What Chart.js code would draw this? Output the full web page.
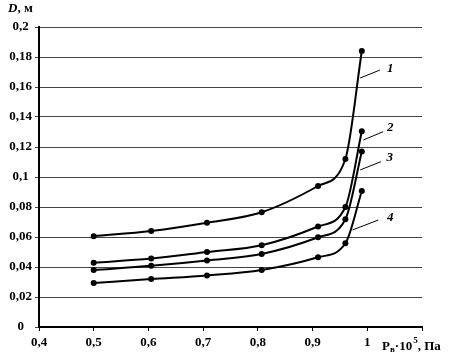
<!DOCTYPE html>
<html>
<head>
<meta charset="utf-8">
<script src="https://cdn.jsdelivr.net/npm/chart.js@4/dist/chart.umd.min.js"></script>
<style>
    html, body { margin: 0; padding: 0; background: #fff; }
    #wrap { width: 457px; height: 362px; position: relative; }
</style>
</head>
<body>
<div id="wrap"><canvas id="chart"></canvas></div>
<script>
// pressure Pв·10^5, Па
const pressure = [0.5, 0.605, 0.707, 0.807, 0.91, 0.96, 0.99];
// diameter D, м for curves 1..4
const curve1 = [0.0605, 0.064, 0.0695, 0.0765, 0.094, 0.112, 0.184];
const curve2 = [0.0428, 0.0456, 0.050, 0.0545, 0.067, 0.080, 0.1305];
const curve3 = [0.038, 0.0408, 0.0444, 0.0487, 0.0598, 0.0718, 0.117];
const curve4 = [0.0293, 0.032, 0.0344, 0.038, 0.0465, 0.0558, 0.0907];

const curveNames = ['1', '2', '3', '4'];
// leader lines for the curve numbers, in data units: [x0, y0, x1, y1, textX, textY]
const leaders = [
    [0.987, 0.166, 1.023, 0.1713, 1.036, 0.1725],
    [0.993, 0.1247, 1.029, 0.1302, 1.036, 0.1330],
    [0.987, 0.1047, 1.025, 0.1102, 1.035, 0.1130],
    [0.973, 0.0647, 1.020, 0.0713, 1.036, 0.0732]
];

const serif = '"Liberation Serif", "Times New Roman", serif';

function toPoints(ys) {
    return pressure.map((x, i) => ({ x: x, y: ys[i] }));
}

function fmt(v) {
    return (Math.round(v * 100) / 100).toString().replace('.', ',');
}

const labelsPlugin = {
    id: 'labels',
    afterDraw(chart) {
        const ctx = chart.ctx;
        const xs = chart.scales.x;
        const ys = chart.scales.y;
        ctx.save();
        ctx.strokeStyle = '#000';
        ctx.fillStyle = '#000';
        ctx.lineWidth = 1;
        leaders.forEach((l, i) => {
            ctx.beginPath();
            ctx.moveTo(xs.getPixelForValue(l[0]), ys.getPixelForValue(l[1]));
            ctx.lineTo(xs.getPixelForValue(l[2]), ys.getPixelForValue(l[3]));
            ctx.stroke();
            ctx.font = 'italic bold 13px ' + serif;
            ctx.textAlign = 'left';
            ctx.textBaseline = 'middle';
            ctx.fillText(curveNames[i], xs.getPixelForValue(l[4]), ys.getPixelForValue(l[5]));
        });

        // y axis title
        ctx.textBaseline = 'middle';
        ctx.textAlign = 'left';
        ctx.font = 'italic bold 13px ' + serif;
        ctx.fillText('D', 8, 9);
        let w = ctx.measureText('D').width;
        ctx.font = 'bold 13px ' + serif;
        ctx.fillText(', м', 8 + w, 9);

        // x axis title
        let x = 382;
        const y = 347;
        ctx.font = 'bold 13px ' + serif;
        ctx.fillText('P', x, y);
        x += ctx.measureText('P').width;
        ctx.font = 'bold 9px ' + serif;
        ctx.fillText('в', x, y + 3);
        x += ctx.measureText('в').width;
        ctx.font = 'bold 13px ' + serif;
        ctx.fillText('·10', x, y);
        x += ctx.measureText('·10').width;
        ctx.font = 'bold 9px ' + serif;
        ctx.fillText('5', x + 1, y - 6);
        x += ctx.measureText('5').width + 1;
        ctx.font = 'bold 13px ' + serif;
        ctx.fillText(', Па', x, y);
        ctx.restore();
    }
};

const lineStyle = {
    borderColor: '#000',
    backgroundColor: '#000',
    borderWidth: 2,
    pointRadius: 3,
    pointBackgroundColor: '#000',
    pointBorderWidth: 0,
    cubicInterpolationMode: 'monotone',
    fill: false
};

new Chart(document.getElementById('chart'), {
    type: 'line',
    data: {
        datasets: [
            Object.assign({ label: '1', data: toPoints(curve1) }, lineStyle),
            Object.assign({ label: '2', data: toPoints(curve2) }, lineStyle),
            Object.assign({ label: '3', data: toPoints(curve3) }, lineStyle),
            Object.assign({ label: '4', data: toPoints(curve4) }, lineStyle)
        ]
    },
    options: {
        responsive: true,
        maintainAspectRatio: false,
        animation: false,
        layout: { padding: { left: 0, right: 35, top: 27, bottom: 0 } },
        plugins: {
            legend: { display: false },
            tooltip: { enabled: false }
        },
        scales: {
            x: {
                type: 'linear',
                min: 0.4,
                max: 1.1,
                afterFit: (s) => { s.height = 35; },
                border: { color: '#000', width: 2 },
                grid: { drawOnChartArea: false, drawTicks: true, tickLength: 4, color: '#000' },
                ticks: {
                    stepSize: 0.1,
                    color: '#000',
                    padding: 4,
                    font: { family: serif, size: 13, weight: 'bold' },
                    callback: (v) => (v > 1.05 ? '' : fmt(v))
                }
            },
            y: {
                min: 0,
                max: 0.2,
                afterFit: (s) => { s.width = 39; },
                border: { color: '#000', width: 2 },
                grid: { color: '#444', lineWidth: 1, tickLength: 4 },
                ticks: {
                    stepSize: 0.02,
                    color: '#000',
                    padding: 3,
                    crossAlign: 'center',
                    font: { family: serif, size: 13, weight: 'bold' },
                    callback: (v) => fmt(v)
                }
            }
        }
    },
    plugins: [labelsPlugin]
});
</script>
</body>
</html>
